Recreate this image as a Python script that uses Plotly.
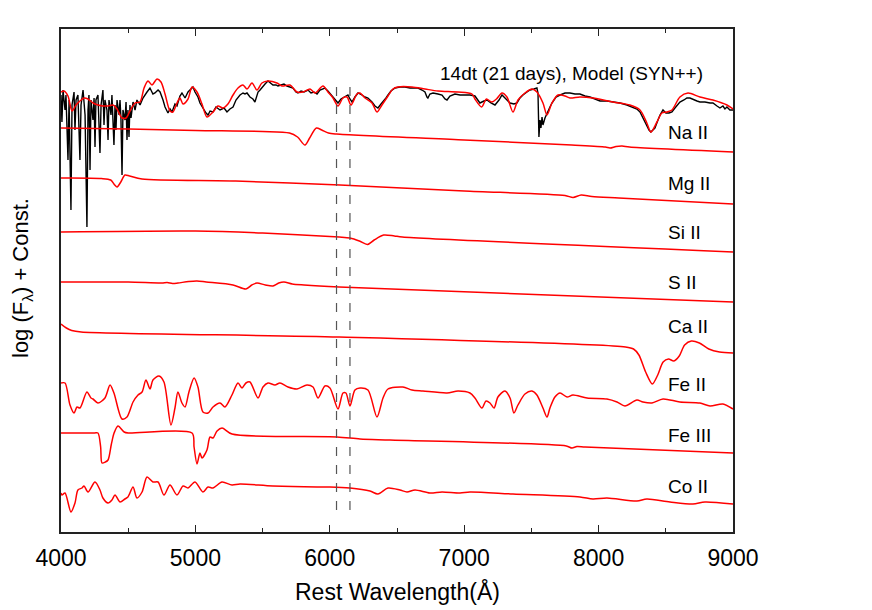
import plotly.graph_objects as go

# ---------------- data (wavelength in Angstrom, log flux + const) ----------------
obs_wave = [4000, 4007, 4015, 4030, 4037, 4052, 4060, 4074, 4082, 4097, 4104, 4112, 4126, 4141, 4149,
            4164, 4179, 4193, 4201, 4208, 4216, 4223, 4238, 4246, 4253, 4260, 4275, 4283, 4290, 4298,
            4312, 4320, 4327, 4342, 4350, 4357, 4372, 4379, 4394, 4402, 4409, 4417, 4432, 4439, 4446,
            4454, 4461, 4476, 4484, 4491, 4498, 4506, 4513, 4521, 4536, 4551, 4565,
            4588, 4610, 4640, 4662, 4684, 4699, 4722, 4737, 4759, 4774, 4796, 4811, 4826, 4848, 4863,
            4885, 4900, 4923, 4945, 4960, 4982, 4997, 5019, 5034, 5056, 5079, 5094, 5109, 5131, 5153,
            5183, 5213, 5235, 5257, 5280, 5302, 5332, 5354, 5369, 5384, 5406, 5428, 5443, 5466, 5481,
            5503, 5518, 5540, 5562, 5577, 5600, 5614, 5637, 5659, 5681, 5704, 5726, 5748, 5763, 5786,
            5808, 5838, 5860, 5882, 5905, 5927, 5942, 5964, 5986, 6016, 6039, 6061, 6083, 6098, 6120,
            6135, 6150, 6165, 6187, 6210, 6239, 6262, 6284, 6314, 6336, 6358, 6381, 6396, 6418, 6433,
            6455, 6485, 6522, 6559, 6597, 6634, 6656, 6686, 6708, 6723, 6730, 6745, 6768, 6805, 6835,
            6857, 6872, 6894, 6931, 6969, 7006, 7043, 7080, 7102, 7117, 7147, 7169, 7199, 7229, 7259,
            7281, 7311, 7341, 7370, 7393, 7415, 7437, 7467, 7489, 7519, 7541, 7549, 7556, 7564, 7571,
            7579, 7586, 7601, 7616, 7638, 7653, 7683, 7713, 7750, 7787, 7824, 7861, 7899, 7936, 7973,
            8010, 8062, 8107, 8159, 8211, 8256, 8285, 8308, 8330, 8345, 8359, 8375, 8389, 8404, 8419,
            8442, 8457, 8479, 8501, 8524, 8546, 8568, 8590, 8605, 8635, 8657, 8680, 8710, 8732, 8754,
            8791, 8829, 8851, 8881, 8903, 8925, 8940, 8955, 8977, 9000]
obs_flux = [4.37, 4.10, 4.42, 4.22, 4.37, 3.72, 4.32, 3.22, 4.27, 4.40, 4.02, 4.32, 4.37, 3.72, 4.27,
            4.42, 4.17, 3.05, 4.22, 4.37, 3.62, 4.32, 4.12, 4.34, 3.85, 4.32, 4.37, 4.12, 3.79, 4.27,
            4.42, 4.07, 4.32, 4.22, 3.92, 4.32, 4.17, 4.37, 3.87, 4.27, 4.02, 4.32, 4.17, 4.32, 4.14,
            3.57, 4.22, 4.12, 4.30, 3.92, 4.22, 3.95, 4.27, 4.14, 4.30, 4.22, 4.32,
            4.27, 4.34, 4.40, 4.44, 4.38, 4.39, 4.42, 4.40, 4.32, 4.25, 4.19, 4.23, 4.20, 4.28, 4.26,
            4.36, 4.39, 4.34, 4.40, 4.42, 4.45, 4.40, 4.35, 4.29, 4.24, 4.19, 4.17, 4.21, 4.20, 4.25,
            4.22, 4.24, 4.20, 4.23, 4.25, 4.32, 4.37, 4.39, 4.38, 4.39, 4.35, 4.33, 4.30, 4.40, 4.42,
            4.46, 4.48, 4.51, 4.48, 4.47, 4.47, 4.46, 4.47, 4.48, 4.46, 4.45, 4.44, 4.40, 4.39, 4.41,
            4.40, 4.42, 4.39, 4.40, 4.38, 4.42, 4.43, 4.44, 4.41, 4.36, 4.32, 4.29, 4.33, 4.34, 4.36,
            4.37, 4.33, 4.30, 4.35, 4.39, 4.37, 4.35, 4.34, 4.30, 4.26, 4.24, 4.28, 4.30, 4.34, 4.37,
            4.41, 4.44, 4.45, 4.45, 4.44, 4.44, 4.44, 4.42, 4.40, 4.35, 4.34, 4.38, 4.39, 4.38, 4.37,
            4.33, 4.32, 4.36, 4.38, 4.37, 4.37, 4.37, 4.36, 4.32, 4.29, 4.31, 4.32, 4.29, 4.27, 4.32,
            4.37, 4.33, 4.29, 4.28, 4.29, 4.34, 4.37, 4.40, 4.42, 4.43, 4.44, 4.39, 3.95, 4.12, 4.04,
            4.15, 4.07, 4.14, 4.19, 4.25, 4.29, 4.35, 4.37, 4.39, 4.39, 4.38, 4.38, 4.36, 4.35, 4.33,
            4.31, 4.31, 4.30, 4.29, 4.27, 4.25, 4.23, 4.20, 4.14, 4.10, 4.07, 4.02, 4.00, 4.02, 4.04,
            4.12, 4.17, 4.22, 4.19, 4.19, 4.20, 4.24, 4.28, 4.30, 4.32, 4.34, 4.34, 4.32, 4.31, 4.30,
            4.30, 4.29, 4.29, 4.26, 4.24, 4.26, 4.23, 4.25, 4.22, 4.22]

model_wave = [4000, 4022, 4052, 4082, 4112, 4141, 4171, 4201, 4238, 4275, 4312, 4350, 4387, 4417, 4454,
              4484, 4513, 4551, 4588, 4618, 4647, 4677, 4714, 4744, 4774, 4811, 4833, 4863, 4885, 4908,
              4945, 4975, 5012, 5049, 5086, 5131, 5168, 5205, 5242, 5280, 5317, 5354, 5384, 5421, 5458,
              5495, 5540, 5607, 5644, 5704, 5756, 5800, 5853, 5890, 5949, 5986, 6024, 6061, 6098, 6128,
              6158, 6202, 6225, 6262, 6314, 6351, 6388, 6433, 6470, 6507, 6611, 6708, 6805, 6954, 7058,
              7080, 7130, 7165, 7205, 7240, 7281, 7318, 7363, 7400, 7452, 7504, 7541, 7586, 7616, 7653,
              7698, 7750, 7787, 7861, 7958, 8107, 8233, 8308, 8359, 8389, 8434, 8471, 8508, 8546, 8605,
              8665, 8754, 8851, 8955, 9000]
model_flux = [4.40, 4.41, 4.36, 4.21, 4.27, 4.31, 4.34, 4.33, 4.29, 4.27, 4.26, 4.26, 4.27, 4.23, 4.14,
              4.14, 4.21, 4.29, 4.30, 4.44, 4.51, 4.47, 4.53, 4.50, 4.38, 4.21, 4.20, 4.29, 4.34, 4.28,
              4.33, 4.45, 4.40, 4.28, 4.15, 4.20, 4.26, 4.24, 4.28, 4.37, 4.44, 4.47, 4.43, 4.49, 4.42,
              4.49, 4.51, 4.49, 4.46, 4.47, 4.40, 4.40, 4.43, 4.39, 4.46, 4.40, 4.34, 4.26, 4.34, 4.35,
              4.27, 4.38, 4.39, 4.34, 4.29, 4.20, 4.27, 4.36, 4.43, 4.45, 4.45, 4.43, 4.41, 4.40, 4.38,
              4.33, 4.25, 4.33, 4.30, 4.33, 4.39, 4.35, 4.20, 4.32, 4.39, 4.43, 4.40, 4.29, 4.17, 4.29,
              4.37, 4.36, 4.34, 4.35, 4.34, 4.30, 4.27, 4.22, 4.09, 4.00, 4.10, 4.19, 4.20, 4.22, 4.35,
              4.39, 4.35, 4.32, 4.27, 4.23]

na_wave = [4000, 4500, 5000, 5500, 5700, 5760, 5815, 5850, 5900, 5940, 5990, 6050, 7000, 7800, 8050,
           8085, 8130, 8174, 8230, 9000]
na_flux = [4.04, 4.03, 4.015, 4.005, 3.99, 3.95, 3.87, 3.94, 4.04, 4.02, 3.99, 3.98, 3.92, 3.87, 3.85,
           3.84, 3.855, 3.86, 3.85, 3.80]

mg_wave = [4000, 4300, 4370, 4400, 4417, 4445, 4476, 4510, 4603, 5300, 6076, 7000, 7750, 7810, 7870,
           7950, 8150, 9000]
mg_flux = [3.54, 3.535, 3.52, 3.47, 3.45, 3.50, 3.57, 3.56, 3.53, 3.51, 3.47, 3.41, 3.365, 3.345, 3.37,
           3.355, 3.34, 3.28]

si_wave = [4000, 5000, 5500, 6070, 6150, 6220, 6280, 6330, 6400, 6480, 6540, 9000]
si_flux = [3.00, 3.01, 2.99, 2.95, 2.94, 2.91, 2.875, 2.92, 2.97, 2.96, 2.95, 2.80]

s_wave = [4000, 4500, 4750, 4790, 4830, 4870, 4950, 5012, 5080, 5280, 5376, 5420, 5458, 5520, 5577,
          5620, 5659, 5720, 5808, 6069, 9000]
s_flux = [2.50, 2.50, 2.49, 2.495, 2.485, 2.49, 2.505, 2.51, 2.50, 2.47, 2.43, 2.47, 2.49, 2.47, 2.46,
          2.49, 2.50, 2.48, 2.47, 2.45, 2.30]

ca_wave = [4000, 4040, 4080, 4150, 6070, 8200, 8260, 8300, 8350, 8400, 8440, 8480, 8520, 8560, 8600,
           8640, 8690, 8750, 8820, 8900, 9000]
ca_flux = [2.08, 2.04, 2.015, 2.00, 1.95, 1.85, 1.83, 1.77, 1.60, 1.48, 1.57, 1.70, 1.73, 1.71, 1.76,
           1.87, 1.91, 1.89, 1.83, 1.80, 1.79]

fe2_wave = [4000, 4030, 4067, 4097, 4119, 4141, 4193, 4223, 4238, 4275, 4327, 4365, 4394, 4454, 4491,
            4536, 4573, 4603, 4632, 4662, 4684, 4729, 4766, 4818, 4848, 4870, 4900, 4923, 4952, 4990,
            5019, 5056, 5094, 5131, 5183, 5220, 5272, 5317, 5347, 5376, 5406, 5466, 5503, 5540, 5592,
            5629, 5689, 5756, 5830, 5875, 5912, 5964, 6001, 6061, 6098, 6120, 6150, 6187, 6225, 6284,
            6351, 6396, 6433, 6544, 6611, 6693, 6872, 6954, 7043, 7080, 7132, 7162, 7192, 7222, 7251,
            7303, 7341, 7370, 7400, 7452, 7504, 7541, 7586, 7616, 7638, 7675, 7713, 7765, 7809, 7914,
            8062, 8137, 8196, 8285, 8330, 8397, 8479, 8605, 8754, 8829, 8925, 9000]
fe2_flux = [1.49, 1.49, 1.27, 1.19, 1.25, 1.24, 1.40, 1.34, 1.33, 1.29, 1.34, 1.47, 1.39, 1.13, 1.15,
            1.30, 1.37, 1.40, 1.52, 1.43, 1.52, 1.56, 1.50, 1.07, 1.24, 1.40, 1.29, 1.25, 1.40, 1.54,
            1.45, 1.20, 1.19, 1.25, 1.29, 1.25, 1.37, 1.49, 1.44, 1.49, 1.50, 1.34, 1.45, 1.49, 1.47,
            1.49, 1.45, 1.43, 1.47, 1.45, 1.34, 1.46, 1.44, 1.23, 1.39, 1.39, 1.26, 1.42, 1.44, 1.42,
            1.15, 1.34, 1.43, 1.45, 1.42, 1.41, 1.39, 1.41, 1.39, 1.34, 1.24, 1.31, 1.29, 1.24, 1.35,
            1.41, 1.34, 1.19, 1.27, 1.38, 1.41, 1.37, 1.24, 1.15, 1.24, 1.35, 1.39, 1.35, 1.37, 1.34,
            1.33, 1.30, 1.26, 1.32, 1.30, 1.29, 1.33, 1.30, 1.29, 1.26, 1.28, 1.23]

fe3_wave = [4000, 4250, 4275, 4295, 4305, 4330, 4350, 4375, 4395, 4424, 4470, 4500, 4975, 4990, 5012,
            5034, 5049, 5086, 5109, 5131, 5161, 5198, 5272, 6053, 6225, 6448, 7760, 7802, 7839, 7900,
            9000]
fe3_flux = [0.99, 0.99, 0.99, 0.85, 0.69, 0.70, 0.72, 0.88, 0.99, 1.06, 1.00, 0.99, 0.99, 0.85, 0.68,
            0.79, 0.74, 0.82, 0.95, 0.94, 1.01, 1.04, 0.98, 0.95, 0.93, 0.92, 0.86, 0.84, 0.855, 0.85,
            0.79]

co_wave = [4000, 4007, 4030, 4074, 4104, 4126, 4156, 4171, 4201, 4253, 4290, 4312, 4350, 4379, 4402,
           4439, 4476, 4498, 4536, 4565, 4603, 4640, 4684, 4722, 4766, 4811, 4863, 4908, 4945, 4997,
           5056, 5094, 5131, 5198, 5272, 5332, 5577, 5905, 6001, 6150, 6299, 6358, 6433, 6522, 6574,
           6634, 6745, 6835, 6969, 7043, 7363, 7861, 7958, 8062, 8285, 8359, 8531, 8702, 8791, 9000]
co_flux = [0.39, 0.37, 0.39, 0.20, 0.29, 0.42, 0.44, 0.46, 0.40, 0.50, 0.42, 0.34, 0.29, 0.32, 0.37,
           0.30, 0.33, 0.35, 0.45, 0.34, 0.40, 0.55, 0.50, 0.50, 0.37, 0.47, 0.37, 0.46, 0.44, 0.50,
           0.40, 0.45, 0.44, 0.50, 0.47, 0.48, 0.46, 0.45, 0.45, 0.44, 0.41, 0.38, 0.44, 0.42, 0.40,
           0.42, 0.39, 0.40, 0.39, 0.40, 0.38, 0.35, 0.33, 0.34, 0.31, 0.33, 0.30, 0.28, 0.30, 0.28]

ion_names = ["Na II", "Mg II", "Si II", "S II", "Ca II", "Fe II", "Fe III", "Co II"]
ion_label_flux = [4.00, 3.49, 3.00, 2.50, 2.06, 1.48, 0.97, 0.46]
ion_label_wave = 8505

title_text = "14dt (21 days), Model (SYN++)"
title_wave = 6803
title_flux = 4.59

marker_waves = [6050, 6150]
marker_flux_range = [0.22, 4.54]

x_ticks = [4000, 5000, 6000, 7000, 8000, 9000]
y_range = [0, 5.03]

# ---------------- figure ----------------
fig = go.Figure()
fig.add_trace(go.Scatter(x=obs_wave, y=obs_flux, mode="lines",
                         line=dict(color="black", width=1.4), hoverinfo="skip"))
fig.add_trace(go.Scatter(x=model_wave, y=model_flux, mode="lines",
                         line=dict(color="#ff0000", width=1.5, shape="spline", smoothing=0.8),
                         hoverinfo="skip"))

for w, f in [(na_wave, na_flux), (mg_wave, mg_flux), (si_wave, si_flux), (s_wave, s_flux),
             (ca_wave, ca_flux), (fe2_wave, fe2_flux), (fe3_wave, fe3_flux), (co_wave, co_flux)]:
    fig.add_trace(go.Scatter(x=w, y=f, mode="lines",
                             line=dict(color="#ff0000", width=1.5, shape="spline", smoothing=0.8),
                             hoverinfo="skip"))

for mw in marker_waves:
    fig.add_shape(type="line", xref="x", yref="y", x0=mw, x1=mw,
                  y0=marker_flux_range[0], y1=marker_flux_range[1],
                  line=dict(color="#555555", width=1.2, dash="dash"))

font_family = "Liberation Sans, Arial, Helvetica, sans-serif"

for name, f in zip(ion_names, ion_label_flux):
    fig.add_annotation(x=ion_label_wave, y=f, xref="x", yref="y", text=name, showarrow=False,
                       xanchor="left", yanchor="middle", font=dict(size=19, color="black"))

fig.add_annotation(x=title_wave, y=title_flux, xref="x", yref="y", text=title_text,
                   showarrow=False, xanchor="left", yanchor="middle",
                   font=dict(size=19, color="black"))

fig.add_annotation(x=0.5, y=-0.119, xref="paper", yref="paper", text="Rest Wavelength(Å)",
                   showarrow=False, xanchor="center", yanchor="middle",
                   font=dict(size=23, color="black"))
fig.add_annotation(x=-0.058, y=0.505, xref="paper", yref="paper",
                   text="log (F<sub>λ</sub>) + Const.", textangle=-90,
                   showarrow=False, xanchor="center", yanchor="middle",
                   font=dict(size=22, color="black"))

fig.update_xaxes(range=[4000, 9000], tickvals=x_ticks, ticktext=[str(t) for t in x_ticks],
                 ticks="inside", ticklen=7, tickwidth=1.3, tickcolor="#222222",
                 minor=dict(ticks="inside", ticklen=4, dtick=500, tick0=4000, tickcolor="#222222",
                            tickwidth=1.2),
                 showline=True, linecolor="#222222", linewidth=1.5, mirror="ticks",
                 showgrid=False, zeroline=False, tickfont=dict(size=23, color="black"),
                 ticklabelstandoff=5)
fig.update_yaxes(range=y_range, showticklabels=False, ticks="", showline=True,
                 linecolor="#222222", linewidth=1.5, mirror=True, showgrid=False, zeroline=False)

# the page body adds an 8px offset, so the figure is 864x602 with margins matched to the reference
fig.update_layout(width=864, height=602, autosize=False, showlegend=False,
                  margin=dict(l=53, r=139, t=21, b=78),
                  paper_bgcolor="white", plot_bgcolor="white",
                  font=dict(family=font_family, color="black"))

fig.write_html("out.html")
